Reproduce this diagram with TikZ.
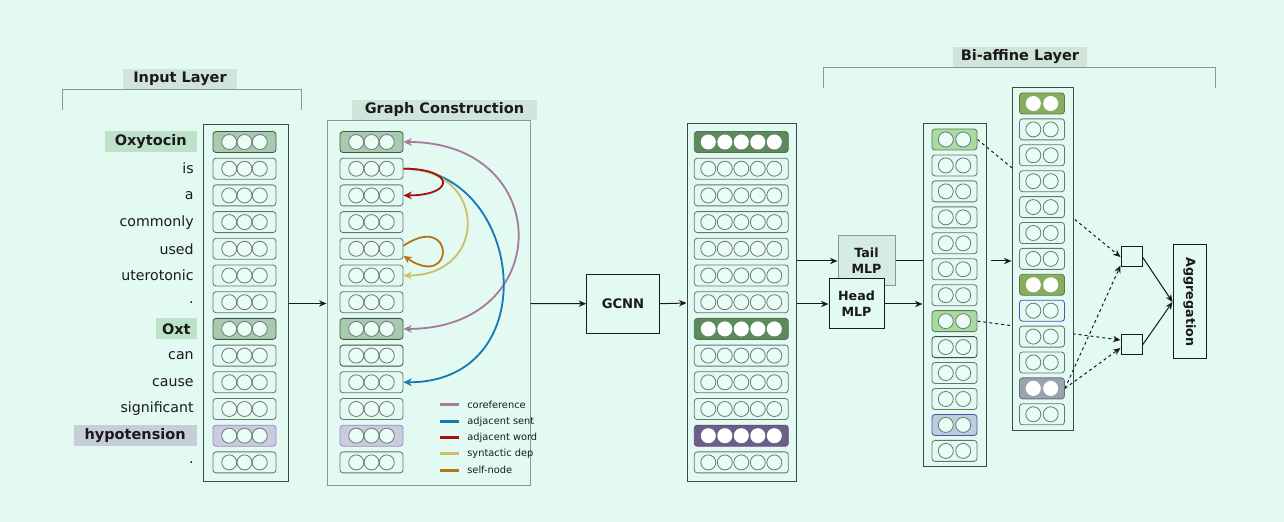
\documentclass[tikz,border=0pt]{standalone}
\usepackage{fontspec}
\setmainfont{DejaVu Sans}
\usepackage{xcolor}
\usetikzlibrary{arrows.meta,positioning,calc,backgrounds}
\definecolor{mint}     {HTML}{E3FAF2}
\definecolor{ink}      {HTML}{1A1A1A}
\definecolor{colline}  {HTML}{3E4C46}
\definecolor{framegray}{HTML}{8A9892}
\definecolor{hdrbg}    {HTML}{D0E4DA}
\definecolor{keygbg}   {HTML}{BEE2C9}
\definecolor{keyvbg}   {HTML}{C8CDDA}
\definecolor{cellgray} {HTML}{65756F}
\definecolor{ringgray} {HTML}{6C7C76}
\definecolor{grnfill}  {HTML}{A8CBAF}
\definecolor{grnline}  {HTML}{3F5A47}
\definecolor{vltfill}  {HTML}{C9CCE0}
\definecolor{vltline}  {HTML}{9C8CC0}
\definecolor{gdark}    {HTML}{5D8A5C}
\definecolor{vdark}    {HTML}{6B5E8B}
\definecolor{lgreen}   {HTML}{A8DC9E}
\definecolor{bluegray} {HTML}{BACEDD}
\definecolor{olive}    {HTML}{87AE5F}
\definecolor{slate}    {HTML}{9AA3AE}
\definecolor{tailfill} {HTML}{D4ECE3}
\definecolor{coref}    {HTML}{A77B9F}
\definecolor{adjsent}  {HTML}{1878B8}
\definecolor{adjword}  {HTML}{A51212}
\definecolor{syndep}   {HTML}{CCC064}
\definecolor{selfnode} {HTML}{B27816}
\tikzset{
  hdrlbl/.style    ={fill=hdrbg, text=ink, font=\fontsize{8.7}{10}\selectfont\bfseries,
                     minimum height=12pt, inner sep=0pt},
  bracket/.style   ={draw=framegray, line width=0.6pt},
  wordtxt/.style   ={anchor=east, text=ink, font=\fontsize{8.5}{10}\selectfont,
                     inner xsep=1.8pt, inner ysep=0pt},
  keyg/.style      ={anchor=east, fill=keygbg, text=ink, font=\fontsize{8.7}{10}\selectfont\bfseries,
                     minimum height=12.6pt, inner xsep=6pt, inner ysep=0pt},
  keygs/.style     ={keyg, inner xsep=3.6pt},
  keyv/.style      ={keyg, fill=keyvbg, inner xsep=6.6pt},
  colbox/.style    ={draw=colline, line width=0.6pt, inner sep=0pt},
  cellbox/.style   ={rounded corners=1.8pt, line width=0.5pt, minimum height=12.6pt, inner sep=0pt},
  cellthree/.style ={minimum width=37.8pt},
  cellfive/.style  ={minimum width=56.4pt},
  celltwo/.style   ={minimum width=27pt},
  plaincell/.style ={draw=cellgray, fill=mint},
  dkcell/.style    ={draw=colline, fill=mint},
  grncell/.style   ={draw=grnline, fill=grnfill},
  vltcell/.style   ={draw=vltline, fill=vltfill},
  gdkcell/.style   ={draw=gdark!85!black, fill=gdark},
  vdkcell/.style   ={draw=vdark!85!black, fill=vdark},
  lgcell/.style    ={draw=lgreen!55!black, fill=lgreen},
  bgcell/.style    ={draw=bluegray!60!blue!70!black, fill=bluegray},
  blcell/.style    ={draw=bluegray!50!blue!80!black, fill=mint},
  olcell/.style    ={draw=olive!70!black, fill=olive},
  slcell/.style    ={draw=slate!70!black, fill=slate},
  ring/.style      ={draw=ringgray, fill=mint!70!white, line width=0.5pt},
  disc/.style      ={fill=white, draw=none},
  flowbox/.style   ={draw=ink, fill=mint, line width=0.6pt, text=ink, align=center, inner sep=1pt},
  flowarr/.style   ={-{Stealth[length=4.5pt,width=3.8pt]}, line width=0.6pt, draw=ink},
  dasharr/.style   ={-{Stealth[length=4.5pt,width=3.8pt]}, line width=0.6pt, draw=ink,
                     dash pattern=on 1.8pt off 1.8pt},
  curvearr/.style  ={-{Stealth[length=5pt,width=4.6pt]}, line width=1.1pt},
  legtxt/.style    ={anchor=west, text=ink, font=\fontsize{5.9}{7}\selectfont, inner sep=0pt},
}
\begin{document}
\begin{tikzpicture}[x=0.6pt,y=-0.6pt]
  \begin{scope}[on background layer]
    \fill[mint] (0,0) rectangle (1284,522);
  \end{scope}

  % input layer
  \node[hdrlbl, minimum width=68.4pt] (inlbl) at (180,79) {Input Layer};
  \draw[bracket] (62,110) -- (62,90) -- (301,90) -- (301,110);
  \foreach \w/\sty [count=\i from 0] in {Oxytocin/keyg, is/wordtxt, a/wordtxt, commonly/wordtxt,
      used/wordtxt, uterotonic/wordtxt, ./wordtxt, Oxt/keygs, can/wordtxt, cause/wordtxt,
      significant/wordtxt, hypotension/keyv, ./wordtxt}
    \node[\sty] (w\i) at (197,142+26.7*\i) {\w};
  \node[colbox, minimum width=51pt, minimum height=214.2pt] (incol) at (245.5,303.5) {};
  \foreach \sty [count=\i from 0] in {grncell,plaincell,plaincell,plaincell,plaincell,plaincell,
      plaincell,grncell,plaincell,plaincell,plaincell,vltcell,plaincell} {
    \node[cellbox,cellthree,\sty] (in\i) at (244.5,142+26.7*\i) {};
    \foreach \dx in {-15.3,0,15.3}
      \draw[ring] ($(in\i.center)+(\dx,0)$) circle[radius=7.5];
  }

  % graph construction
  \node[draw=framegray, line width=0.6pt, minimum width=121.8pt, minimum height=219pt,
        inner sep=0pt] (gcbox) at (428.5,303.5) {};
  \node[hdrlbl, minimum width=111pt] (gclbl) at (444.5,110) {Graph Construction};
  \foreach \sty [count=\i from 0] in {grncell,plaincell,plaincell,plaincell,plaincell,plaincell,
      plaincell,grncell,dkcell,plaincell,plaincell,vltcell,plaincell} {
    \node[cellbox,cellthree,\sty] (gc\i) at (371.5,142+26.7*\i) {};
    \foreach \dx in {-15.3,0,15.3}
      \draw[ring] ($(gc\i.center)+(\dx,0)$) circle[radius=7.5];
  }
  \draw[curvearr, coref, {Stealth[length=5pt,width=4.6pt]}-{Stealth[length=5pt,width=4.6pt]}]
    (gc0.east) .. controls +(152,0) and +(152,0) .. (gc7.east);
  \draw[curvearr, adjsent] (gc1.east) .. controls +(120,0) and +(145,0) .. (gc9.east);
  \draw[curvearr, syndep] (gc1.east) .. controls +(85,0) and +(85,0) .. (gc5.east);
  \draw[curvearr, adjword] (gc1.east) .. controls +(52,0) and +(52,0) .. (gc2.east);
  \draw[curvearr, selfnode] ($(gc4.east)+(0,-3)$) .. controls +(52,-35) and +(52,35) .. ($(gc4.east)+(0,7)$);
  % legend
  \foreach \lab/\col [count=\i from 0] in {coreference/coref, adjacent sent/adjsent,
      adjacent word/adjword, syntactic dep/syndep, self-node/selfnode} {
    \node[legtxt] (lg\i) at (467,405+16.3*\i) {\lab};
    \draw[\col, line width=1.8pt] ($(lg\i.west)+(-8,0)$) -- ++(-19,0);
  }

  % gcnn
  \node[flowbox, minimum width=43.6pt, minimum height=35.6pt,
        font=\fontsize{7.9}{9}\selectfont\bfseries] (gcnn) at (623,303.7) {GCNN};
  \node[colbox, minimum width=65.4pt, minimum height=214.8pt] (gocol) at (741.5,303) {};
  \foreach \sty/\dt [count=\i from 0] in {gdkcell/disc, plaincell/ring, plaincell/ring,
      plaincell/ring, plaincell/ring, plaincell/ring, plaincell/ring, gdkcell/disc,
      plaincell/ring, plaincell/ring, plaincell/ring, vdkcell/disc, plaincell/ring} {
    \node[cellbox,cellfive,\sty] (go\i) at (741.3,142+26.7*\i) {};
    \foreach \dx in {-33,-16.5,0,16.5,33}
      \draw[\dt] ($(go\i.center)+(\dx,0)$) circle[radius=7.5];
  }
  \draw[flowarr] (incol.east) -- (gcbox.west);
  \draw[flowarr] (gcbox.east) -- (gcnn.west);
  \draw[flowarr] (gcnn.east) -- (gocol.west);

  % bi-affine layer
  \node[hdrlbl, minimum width=80.4pt] (bilbl) at (1020,57) {Bi-affine Layer};
  \draw[bracket] (823,88) -- (823,68) -- (1215,68) -- (1215,88);
  \node[flowbox, fill=tailfill, draw=framegray, minimum width=34.2pt, minimum height=30pt,
        font=\fontsize{7.6}{9.8}\selectfont\bfseries] (tail) at (866.5,261) {Tail\\MLP};
  \node[flowbox, minimum width=33pt, minimum height=30pt,
        font=\fontsize{7.6}{9.6}\selectfont\bfseries] (head) at (856.5,304) {Head\\MLP};
  \draw[flowarr] (gocol.east |- tail.west) -- (tail.west);
  \draw[flowarr] (gocol.east |- head.west) -- (head.west);

  \node[colbox, minimum width=37.8pt, minimum height=205.8pt] (hdcol) at (954.5,295.5) {};
  \foreach \sty/\dt [count=\i from 0] in {lgcell/ring, plaincell/ring, plaincell/ring,
      plaincell/ring, plaincell/ring, plaincell/ring, plaincell/ring, lgcell/ring,
      dkcell/ring, plaincell/ring, plaincell/ring, bgcell/ring, plaincell/ring} {
    \node[cellbox,celltwo,\sty] (hd\i) at (954.5,139.5+25.95*\i) {};
    \foreach \dx in {-8.7,8.7}
      \draw[\dt] ($(hd\i.center)+(\dx,0)$) circle[radius=7.5];
  }
  \node[colbox, fill=mint, minimum width=36.6pt, minimum height=205.8pt] (tlcol) at (1042.5,259.5) {};
  \foreach \sty/\dt [count=\i from 0] in {olcell/disc, plaincell/ring, plaincell/ring,
      plaincell/ring, plaincell/ring, plaincell/ring, plaincell/ring, olcell/disc,
      blcell/ring, plaincell/ring, plaincell/ring, slcell/disc, plaincell/ring} {
    \node[cellbox,celltwo,\sty] (tl\i) at (1042,103.5+25.9*\i) {};
    \foreach \dx in {-8.7,8.7}
      \draw[\dt] ($(tl\i.center)+(\dx,0)$) circle[radius=7.5];
  }
  \draw[draw=ink, line width=0.6pt] (tail.east) -- (tail.east -| hdcol.west);
  \draw[flowarr] ($(tail.east -| hdcol.east)+(4,0)$) -- (tail.east -| tlcol.west);
  \draw[flowarr] (head.east) -- (head.east -| hdcol.west);

  \node[flowbox, minimum width=12.6pt, minimum height=12pt] (sq1) at (1131.5,257) {};
  \node[flowbox, minimum width=12.6pt, minimum height=12pt] (sq2) at (1131.5,345) {};
  \node[flowbox, rotate=-90, minimum width=68.4pt, minimum height=19.8pt,
        font=\fontsize{7.6}{9}\selectfont\bfseries] (aggr) at (1189.5,302) {Aggregation};

  \begin{scope}[on background layer]
    \draw[dasharr] (hd0.east) -- (sq1.west);
    \draw[dasharr] (hd7.east) -- ($(sq2.west)+(0,-5)$);
  \end{scope}
  \draw[dasharr] (tl11.east) -- ($(sq1.south west)+(0,-2)$);
  \draw[dasharr] (tl11.east) -- ($(sq2.west)+(0,3)$);
  \draw[flowarr] (sq1.east) -- (aggr.south);
  \draw[flowarr] (sq2.east) -- (aggr.south);
\end{tikzpicture}
\end{document}
